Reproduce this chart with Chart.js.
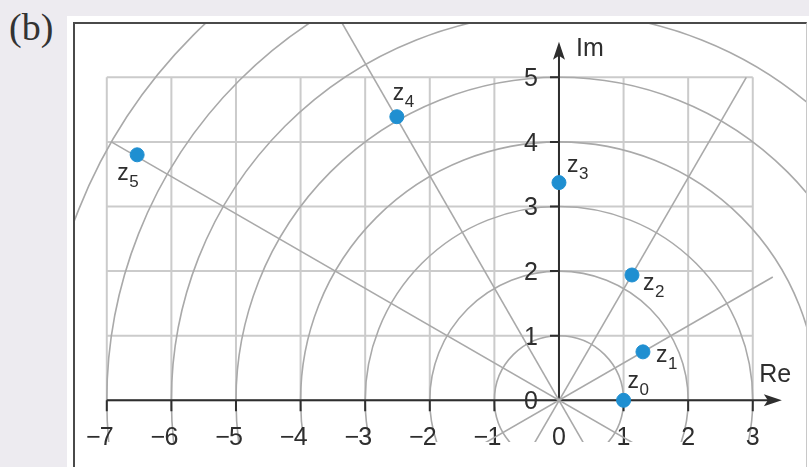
<!DOCTYPE html>
<html>
<head>
<meta charset="utf-8">
<script src="https://cdn.jsdelivr.net/npm/chart.js@4/dist/chart.umd.min.js"></script>
<style>
  html, body { margin: 0; padding: 0; }
  body { width: 809px; height: 467px; background: #edebf0; position: relative; overflow: hidden; }
  #tag { position: absolute; left: 9px; top: 8px; font: 38px/1 "Liberation Serif", serif; color: #333; }
  #panel { position: absolute; left: 67px; top: 16px; width: 742px; height: 451px; background: #fff; }
  #frame { position: absolute; left: 73px; top: 22px; width: 731px; height: 445px;
           border-left: 2px solid #4a4a4a; border-top: 2px solid #4a4a4a; border-right: 1px solid #c8c8c8; }
  #chart { display: block; }
</style>
</head>
<body>
<div id="tag">(b)</div>
<div id="panel"></div>
<div id="frame"><canvas id="chart" width="731" height="443"></canvas></div>
<script>
// data
const pointNames = ["0", "1", "2", "3", "4", "5"];
const zRe = [1.0, 1.30, 1.13, 0.0, -2.51, -6.53];
const zIm = [0.0, 0.75, 1.94, 3.37, 4.39, 3.80];
const xTicks = [-7, -6, -5, -4, -3, -2, -1, 0, 1, 2, 3];
const yTicks = [0, 1, 2, 3, 4, 5];
const circleRadii = [1, 2, 3, 4, 5, 6, 7, 8];
// lines through the origin: upper end, lower end
const rayTop = [[3.31, 1.91], [2.90, 5.0], [-4.6, 8.0], [-6.93, 4.0]];
const rayBottom = [[-1.39, -0.8], [-0.46, -0.8], [0.46, -0.8], [1.39, -0.8]];

const labelOffsets = [[4, -12], [13, 10], [11, 15], [8, -11], [-4, -17], [-20, 25]];
const tickFont = '25px "Liberation Sans", Arial, sans-serif';
const ink = "#2e2e2e";

const rayDatasets = rayTop.map((top, i) => ({
  type: "line",
  data: [{ x: rayBottom[i][0], y: rayBottom[i][1] }, { x: top[0], y: top[1] }],
  borderColor: "#a9a9a9",
  borderWidth: 1.6,
  pointRadius: 0,
  order: 2,
}));

const backdrop = {
  id: "backdrop",
  beforeDatasetsDraw(chart) {
    const { ctx, chartArea } = chart;
    const xs = chart.scales.x, ys = chart.scales.y;
    const px = (v) => xs.getPixelForValue(v);
    const py = (v) => ys.getPixelForValue(v);
    ctx.save();
    ctx.beginPath();
    ctx.rect(chartArea.left, chartArea.top, chartArea.right - chartArea.left, chartArea.bottom - chartArea.top);
    ctx.clip();

    // rectangular grid
    ctx.strokeStyle = "#cbcbcb";
    ctx.lineWidth = 2;
    ctx.beginPath();
    xTicks.forEach((t) => {
      ctx.moveTo(px(t), py(0));
      ctx.lineTo(px(t), py(yTicks[yTicks.length - 1]));
    });
    yTicks.forEach((t) => {
      ctx.moveTo(px(xTicks[0]), py(t));
      ctx.lineTo(px(xTicks[xTicks.length - 1]), py(t));
    });
    ctx.stroke();

    // circles around the origin
    ctx.strokeStyle = "#a9a9a9";
    ctx.lineWidth = 1.6;
    circleRadii.forEach((r) => {
      ctx.beginPath();
      ctx.ellipse(px(0), py(0), px(r) - px(0), py(0) - py(r), 0, 0, Math.PI * 2);
      ctx.stroke();
    });
    ctx.restore();

    // axes
    ctx.save();
    ctx.strokeStyle = ink;
    ctx.fillStyle = ink;
    ctx.lineWidth = 2;
    const ox = px(0), oy = py(0);
    const xEnd = px(3.45), yEnd = py(5.55);
    ctx.beginPath();
    ctx.moveTo(px(xTicks[0]), oy);
    ctx.lineTo(xEnd - 10, oy);
    ctx.moveTo(ox, oy);
    ctx.lineTo(ox, yEnd + 10);
    // tick marks
    xTicks.forEach((t) => {
      if (t === 0) return;
      ctx.moveTo(px(t), oy);
      ctx.lineTo(px(t), oy + 11);
    });
    yTicks.forEach((t) => {
      if (t === 0) return;
      ctx.moveTo(ox - 9, py(t));
      ctx.lineTo(ox, py(t));
    });
    ctx.stroke();
    // arrow heads
    ctx.beginPath();
    ctx.moveTo(xEnd, oy);
    ctx.lineTo(xEnd - 18, oy - 6);
    ctx.lineTo(xEnd - 14, oy);
    ctx.lineTo(xEnd - 18, oy + 6);
    ctx.closePath();
    ctx.fill();
    ctx.beginPath();
    ctx.moveTo(ox, yEnd);
    ctx.lineTo(ox - 6, yEnd + 18);
    ctx.lineTo(ox, yEnd + 14);
    ctx.lineTo(ox + 6, yEnd + 18);
    ctx.closePath();
    ctx.fill();

    // tick labels
    ctx.font = tickFont;
    ctx.textBaseline = "alphabetic";
    xTicks.forEach((t) => {
      const digit = String(Math.abs(t));
      const w = ctx.measureText(digit).width;
      ctx.textAlign = "center";
      ctx.fillText(digit, px(t), oy + 45);
      if (t < 0) {
        ctx.textAlign = "right";
        ctx.fillText("\u2212", px(t) - w / 2 + 1, oy + 45);
      }
    });
    ctx.textAlign = "right";
    ctx.textBaseline = "middle";
    yTicks.forEach((t) => {
      ctx.fillText(String(t), ox - 21, py(t) + 2);
    });
    ctx.textAlign = "left";
    ctx.textBaseline = "alphabetic";
    ctx.fillText("Im", ox + 17, py(5.5) + 11);
    ctx.fillText("Re", px(3.1), oy - 18);
    ctx.restore();
  },
  afterDatasetsDraw(chart) {
    const { ctx } = chart;
    const meta = chart.getDatasetMeta(0);
    ctx.save();
    ctx.fillStyle = ink;
    ctx.textBaseline = "alphabetic";
    ctx.textAlign = "left";
    meta.data.forEach((pt, i) => {
      const x = pt.x + labelOffsets[i][0];
      const y = pt.y + labelOffsets[i][1];
      ctx.font = '23px "Liberation Sans", Arial, sans-serif';
      ctx.fillText("z", x, y);
      const w = ctx.measureText("z").width;
      ctx.font = '17px "Liberation Sans", Arial, sans-serif';
      ctx.fillText(pointNames[i], x + w + 0.5, y + 7);
    });
    ctx.restore();
  },
};

const ctx = document.getElementById("chart").getContext("2d");
new Chart(ctx, {
  type: "scatter",
  data: {
    datasets: [
      {
        data: zRe.map((re, i) => ({ x: re, y: zIm[i] })),
        backgroundColor: "#1f8fd1",
        borderColor: "#1f8fd1",
        pointRadius: 7,
        order: 0,
      },
      ...rayDatasets,
    ],
  },
  options: {
    responsive: false,
    animation: false,
    layout: { autoPadding: false, padding: { left: 0, right: 0, top: 0, bottom: 25 } },
    plugins: { legend: { display: false }, tooltip: { enabled: false } },
    scales: {
      x: { type: "linear", display: false, min: -7.492, max: 3.824 },
      y: { type: "linear", display: false, min: -0.645, max: 5.825 },
    },
  },
  plugins: [backdrop],
});
</script>
</body>
</html>
